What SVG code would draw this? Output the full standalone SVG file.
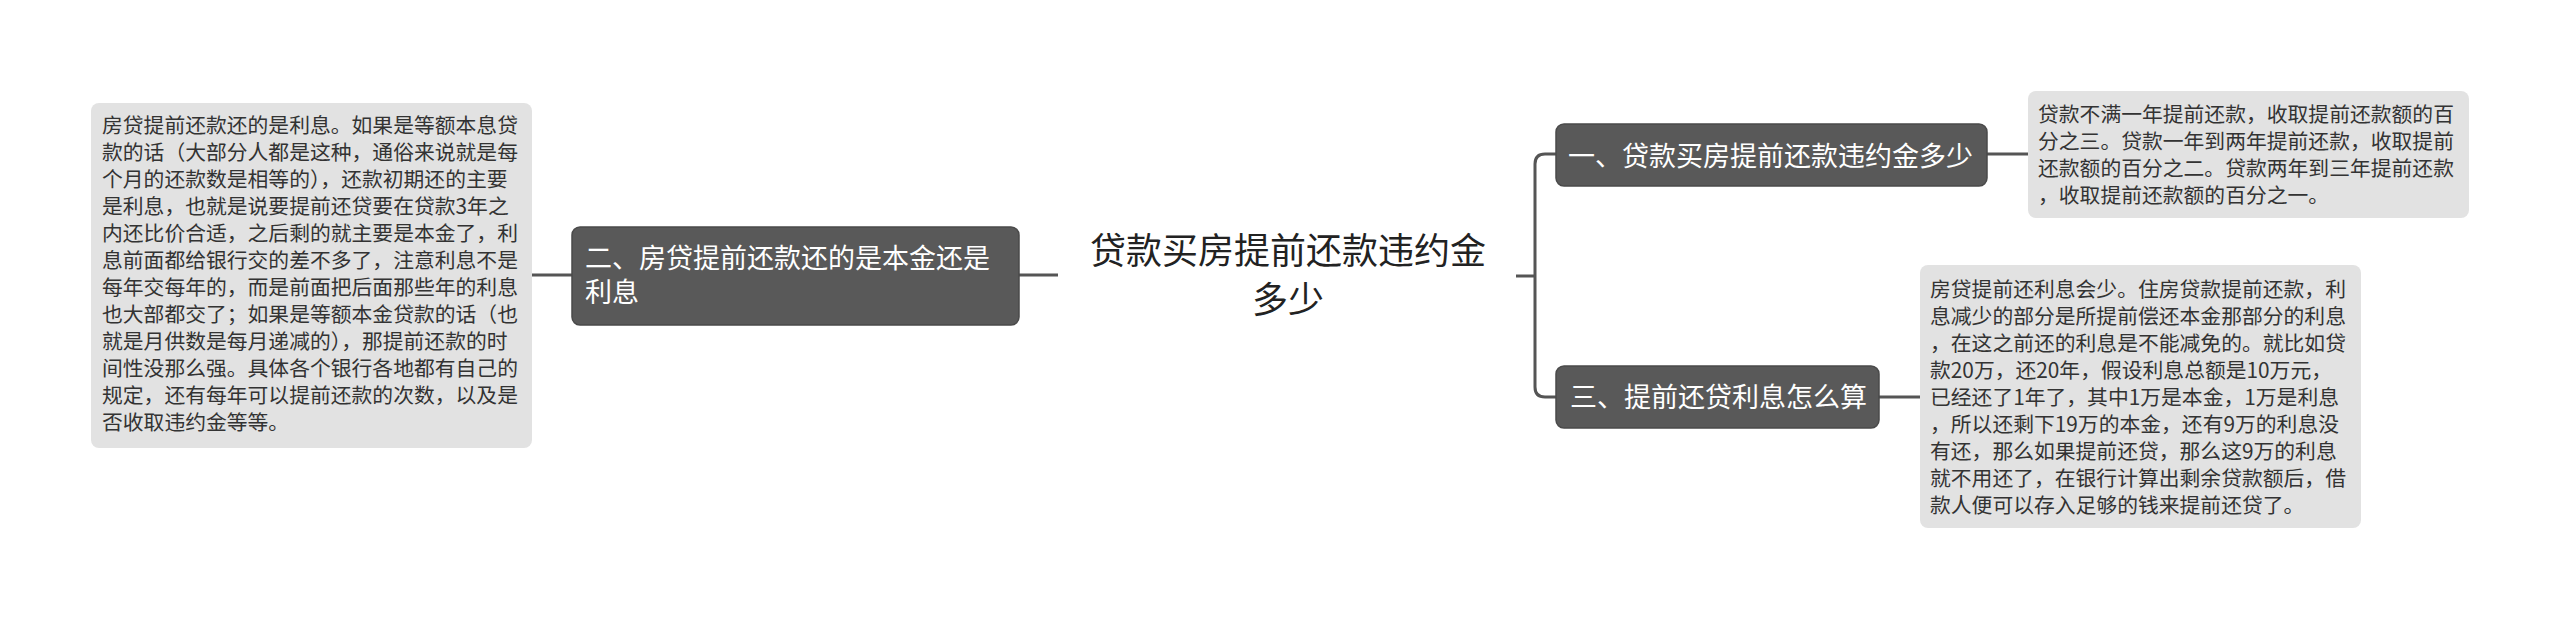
<svg xmlns="http://www.w3.org/2000/svg" width="2560" height="620" viewBox="0 0 2560 620">
<style>
.topic{fill:#595959;stroke:#4a4a4a;stroke-width:1.5}
.note{fill:#e2e2e2}
.tt{font-family:"Noto Sans CJK SC","Noto Sans",sans-serif;font-size:27px;fill:#ffffff}
.nt{font-family:"Noto Sans CJK SC","Noto Sans",sans-serif;font-size:20.8px;fill:#333333}
.ct{font-family:"Noto Sans CJK SC","Noto Sans",sans-serif;font-size:36px;fill:#222222;text-anchor:middle}
.ln{fill:none;stroke:#555555;stroke-width:3}
</style>
<rect width="2560" height="620" fill="#ffffff"/>
<g id="connectors">
<path class="ln" d="M532 275 H572"/>
<path class="ln" d="M1019 275 H1058"/>
<path class="ln" d="M1516 276 H1535"/>
<path class="ln" d="M1556 154 H1545 Q1535 154 1535 164 V387 Q1535 397 1545 397 H1556"/>
<path class="ln" d="M1987 154 H2028"/>
<path class="ln" d="M1879 397 H1920"/>
</g>
<g id="root">
<text class="ct" x="1288" y="264">贷款买房提前还款违约金</text>
<text class="ct" x="1288" y="313">多少</text>
</g>
<g id="node-2">
<rect class="topic" x="572" y="227" width="447" height="98" rx="8"/>
<text class="tt" x="585" y="268">二、房贷提前还款还的是本金还是</text>
<text class="tt" x="585" y="302">利息</text>
</g>
<g id="note-2">
<rect class="note" x="91" y="103" width="441" height="345" rx="8"/>
<text class="nt" x="102" y="133">房贷提前还款还的是利息。如果是等额本息贷</text>
<text class="nt" x="102" y="160">款的话（大部分人都是这种，通俗来说就是每</text>
<text class="nt" x="102" y="187">个月的还款数是相等的），还款初期还的主要</text>
<text class="nt" x="102" y="214">是利息，也就是说要提前还贷要在贷款3年之</text>
<text class="nt" x="102" y="241">内还比价合适，之后剩的就主要是本金了，利</text>
<text class="nt" x="102" y="268">息前面都给银行交的差不多了，注意利息不是</text>
<text class="nt" x="102" y="295">每年交每年的，而是前面把后面那些年的利息</text>
<text class="nt" x="102" y="322">也大部都交了；如果是等额本金贷款的话（也</text>
<text class="nt" x="102" y="349">就是月供数是每月递减的），那提前还款的时</text>
<text class="nt" x="102" y="376">间性没那么强。具体各个银行各地都有自己的</text>
<text class="nt" x="102" y="403">规定，还有每年可以提前还款的次数，以及是</text>
<text class="nt" x="102" y="430">否收取违约金等等。</text>
</g>
<g id="node-1">
<rect class="topic" x="1556" y="124" width="431" height="62" rx="8"/>
<text class="tt" x="1568" y="166">一、贷款买房提前还款违约金多少</text>
</g>
<g id="note-1">
<rect class="note" x="2028" y="91" width="441" height="127" rx="8"/>
<text class="nt" x="2038" y="122">贷款不满一年提前还款，收取提前还款额的百</text>
<text class="nt" x="2038" y="149">分之三。贷款一年到两年提前还款，收取提前</text>
<text class="nt" x="2038" y="176">还款额的百分之二。贷款两年到三年提前还款</text>
<text class="nt" x="2038" y="203">，收取提前还款额的百分之一。</text>
</g>
<g id="node-3">
<rect class="topic" x="1556" y="366" width="323" height="62" rx="8"/>
<text class="tt" x="1570" y="407">三、提前还贷利息怎么算</text>
</g>
<g id="note-3">
<rect class="note" x="1920" y="265" width="441" height="263" rx="8"/>
<text class="nt" x="1930" y="297">房贷提前还利息会少。住房贷款提前还款，利</text>
<text class="nt" x="1930" y="324">息减少的部分是所提前偿还本金那部分的利息</text>
<text class="nt" x="1930" y="351">，在这之前还的利息是不能减免的。就比如贷</text>
<text class="nt" x="1930" y="378">款20万，还20年，假设利息总额是10万元，</text>
<text class="nt" x="1930" y="405">已经还了1年了，其中1万是本金，1万是利息</text>
<text class="nt" x="1930" y="432">，所以还剩下19万的本金，还有9万的利息没</text>
<text class="nt" x="1930" y="459">有还，那么如果提前还贷，那么这9万的利息</text>
<text class="nt" x="1930" y="486">就不用还了，在银行计算出剩余贷款额后，借</text>
<text class="nt" x="1930" y="513">款人便可以存入足够的钱来提前还贷了。</text>
</g>
</svg>
